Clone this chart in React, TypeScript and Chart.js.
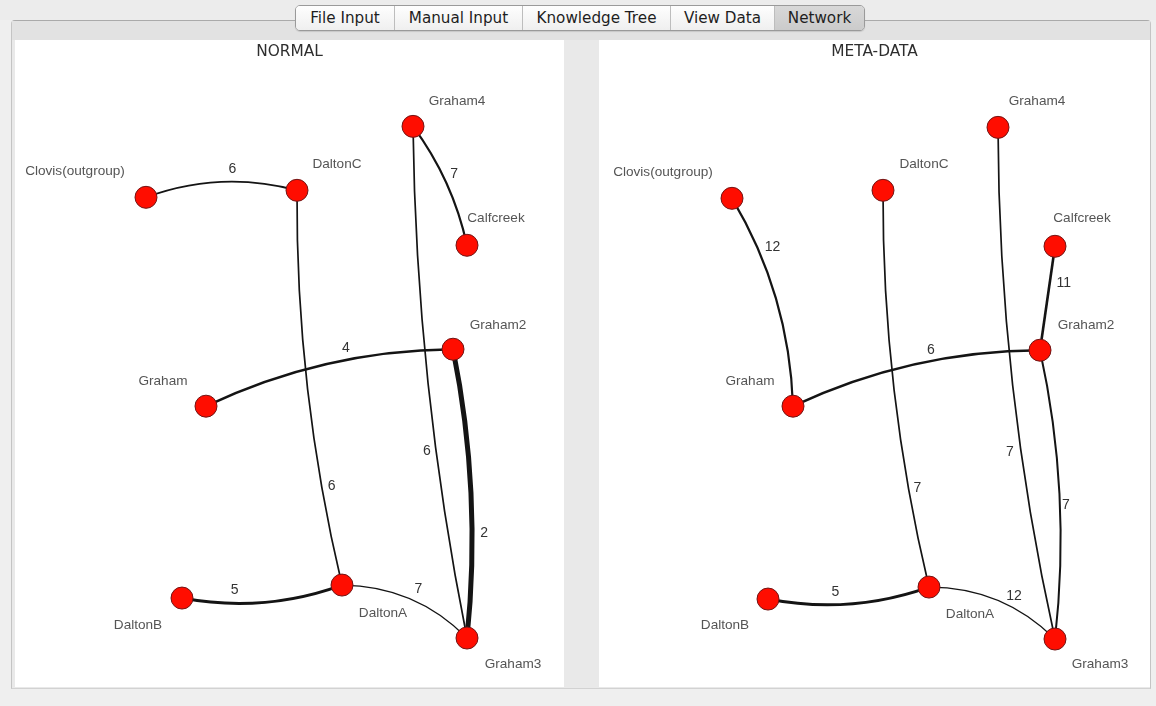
import React, { useEffect, useRef } from "react";
import { Chart, registerables } from "chart.js";

Chart.register(...registerables);

// ---------- data ----------
const NODE_NAMES = [
  "Graham4",
  "Clovis(outgroup)",
  "DaltonC",
  "Calfcreek",
  "Graham2",
  "Graham",
  "DaltonB",
  "DaltonA",
  "Graham3",
];

// network layout positions (layout units) – NORMAL
const NORMAL_X = [398, 131, 282, 452, 438, 191, 167, 327, 452];
const NORMAL_Y = [86, 157, 150, 205, 309, 366, 558, 545, 598];
// network layout positions (layout units) – META-DATA
const META_X = [399, 133, 284, 456, 441, 194, 169, 330, 456];
const META_Y = [87, 158, 150, 206, 310, 366, 559, 547, 599];

// edges (node index pairs) and their weights
const NORMAL_FROM = [1, 0, 2, 0, 5, 4, 6, 7];
const NORMAL_TO = [2, 3, 7, 8, 4, 8, 7, 8];
const NORMAL_WEIGHTS = [6, 7, 6, 6, 4, 2, 5, 7];

const META_FROM = [1, 2, 0, 3, 5, 4, 6, 7];
const META_TO = [5, 7, 8, 4, 4, 8, 7, 8];
const META_WEIGHTS = [12, 7, 7, 11, 6, 7, 5, 12];

const TABS = ["File Input", "Manual Input", "Knowledge Tree", "View Data", "Network"];

// ---------- styles ----------
const NORMAL_EDGE_WIDTH = [1.7, 2.2, 1.7, 1.7, 2.6, 5, 3, 1.3];
const NORMAL_EDGE_BEND = [-12, -7, 12, 12, -14, -11, 11, -14];
const NORMAL_LABEL_T = [0.58, 0.46, 0.75, 0.63, 0.59, 0.64, 0.33, 0.53];
const NORMAL_LABEL_OFF = [-12, -11, -10, 9, -12, -12, -13, -12];
const NORMAL_NODE_LABEL_DX = [44, -71, 40, 29, 45, -43, -44, 41, 46];
const NORMAL_NODE_LABEL_DY = [-25, -26, -26, -27, -24, -25, 27, 28, 26];

const META_EDGE_WIDTH = [2.2, 1.7, 1.7, 2.6, 2.6, 2, 3, 1.3];
const META_EDGE_BEND = [-14, 12, 14, 0, -14, -12, 11, -14];
const META_LABEL_T = [0.27, 0.75, 0.63, 0.34, 0.58, 0.54, 0.42, 0.6];
const META_LABEL_OFF = [-14, -9, 11, -14, -11, -6, -13, -11];
const META_NODE_LABEL_DX = [39, -69, 41, 27, 46, -43, -43, 41, 45];
const META_NODE_LABEL_DY = [-26, -26, -26, -28, -25, -25, 26, 27, 25];

const TAB_WIDTHS = [99, 128, 148, 104, 91];

const EDGE_COLOR = "#141414";
const NODE_FILL = "#ff0d00";
const NODE_BORDER = "#701515";

interface NetCfg {
  title: string;
  xs: number[];
  ys: number[];
  from: number[];
  to: number[];
  weights: number[];
  widths: number[];
  bends: number[];
  labelT: number[];
  labelOff: number[];
  nodeDx: number[];
  nodeDy: number[];
  width: number;
  height: number;
  left: number;
  top: number;
}

const TITLE_H = 25;

function edgeGeom(ax: number, ay: number, bx: number, by: number, bend: number) {
  const dx = bx - ax;
  const dy = by - ay;
  const len = Math.hypot(dx, dy) || 1;
  const nx = -dy / len;
  const ny = dx / len;
  const cx = (ax + bx) / 2 + nx * bend * 2;
  const cy = (ay + by) / 2 + ny * bend * 2;
  return { cx, cy, nx, ny };
}

function makeNetworkPlugin(c: NetCfg) {
  const pix = (chart: any, i: number) => ({
    x: chart.scales.x.getPixelForValue(c.xs[i]),
    y: chart.scales.y.getPixelForValue(c.ys[i]),
  });
  return {
    id: "networkGraph",
    beforeDatasetsDraw(chart: any) {
      const ctx = chart.ctx as CanvasRenderingContext2D;
      ctx.save();
      ctx.strokeStyle = EDGE_COLOR;
      ctx.lineCap = "butt";
      c.from.forEach((a, i) => {
        const A = pix(chart, a);
        const B = pix(chart, c.to[i]);
        const g = edgeGeom(A.x, A.y, B.x, B.y, c.bends[i]);
        ctx.lineWidth = c.widths[i];
        ctx.beginPath();
        ctx.moveTo(A.x, A.y);
        ctx.quadraticCurveTo(g.cx, g.cy, B.x, B.y);
        ctx.stroke();
      });
      ctx.restore();
    },
    afterDatasetsDraw(chart: any) {
      const ctx = chart.ctx as CanvasRenderingContext2D;
      ctx.save();
      ctx.textAlign = "center";
      ctx.textBaseline = "middle";
      // edge weight labels
      ctx.font = '14px "Liberation Sans", Arial, sans-serif';
      ctx.fillStyle = "#333333";
      c.from.forEach((a, i) => {
        const A = pix(chart, a);
        const B = pix(chart, c.to[i]);
        const g = edgeGeom(A.x, A.y, B.x, B.y, c.bends[i]);
        const t = c.labelT[i];
        const u = 1 - t;
        const px = u * u * A.x + 2 * u * t * g.cx + t * t * B.x;
        const py = u * u * A.y + 2 * u * t * g.cy + t * t * B.y;
        ctx.fillText(
          String(c.weights[i]),
          px + g.nx * c.labelOff[i],
          py + g.ny * c.labelOff[i]
        );
      });
      // node labels
      ctx.font = '13.6px "Liberation Sans", Arial, sans-serif';
      ctx.fillStyle = "#555555";
      NODE_NAMES.forEach((name, i) => {
        const P = pix(chart, i);
        ctx.fillText(name, P.x + c.nodeDx[i], P.y + c.nodeDy[i]);
      });
      ctx.restore();
    },
  };
}

function NetworkChart(props: { cfg: NetCfg }) {
  const { cfg } = props;
  const ref = useRef<HTMLCanvasElement | null>(null);
  useEffect(() => {
    if (!ref.current) return;
    const chart = new Chart(ref.current, {
      type: "scatter",
      data: {
        datasets: [
          {
            label: "nodes",
            data: cfg.xs.map((x, i) => ({ x, y: cfg.ys[i] })),
            pointRadius: 11,
            pointHoverRadius: 11,
            backgroundColor: NODE_FILL,
            borderColor: NODE_BORDER,
            borderWidth: 1,
          },
        ],
      },
      options: {
        animation: false,
        responsive: false,
        devicePixelRatio: 1,
        layout: { padding: 0, autoPadding: false },
        scales: {
          x: { type: "linear", display: false, min: 0, max: cfg.width },
          y: { type: "linear", display: false, reverse: true, min: TITLE_H, max: cfg.height },
        },
        plugins: {
          legend: { display: false },
          tooltip: { enabled: false },
          title: {
            display: true,
            text: cfg.title,
            color: "#2e2e2e",
            font: { family: '"DejaVu Sans", sans-serif', size: 15.4, weight: "normal", lineHeight: 1 },
            padding: { top: 4, bottom: 6 },
          },
        },
        events: [],
      },
      plugins: [makeNetworkPlugin(cfg)],
    } as any);
    return () => chart.destroy();
  }, []);
  return (
    <canvas
      ref={ref}
      width={cfg.width}
      height={cfg.height}
      style={{
        position: "absolute",
        left: cfg.left,
        top: cfg.top,
        width: cfg.width,
        height: cfg.height,
        background: "#ffffff",
      }}
    />
  );
}

const normalCfg: NetCfg = {
  title: "NORMAL",
  xs: NORMAL_X,
  ys: NORMAL_Y,
  from: NORMAL_FROM,
  to: NORMAL_TO,
  weights: NORMAL_WEIGHTS,
  widths: NORMAL_EDGE_WIDTH,
  bends: NORMAL_EDGE_BEND,
  labelT: NORMAL_LABEL_T,
  labelOff: NORMAL_LABEL_OFF,
  nodeDx: NORMAL_NODE_LABEL_DX,
  nodeDy: NORMAL_NODE_LABEL_DY,
  width: 549,
  height: 647,
  left: 15,
  top: 40,
};

const metaCfg: NetCfg = {
  title: "META-DATA",
  xs: META_X,
  ys: META_Y,
  from: META_FROM,
  to: META_TO,
  weights: META_WEIGHTS,
  widths: META_EDGE_WIDTH,
  bends: META_EDGE_BEND,
  labelT: META_LABEL_T,
  labelOff: META_LABEL_OFF,
  nodeDx: META_NODE_LABEL_DX,
  nodeDy: META_NODE_LABEL_DY,
  width: 551,
  height: 647,
  left: 599,
  top: 40,
};

export default function App() {
  return (
    <div
      style={{
        position: "absolute",
        left: 0,
        top: 0,
        width: 1156,
        height: 706,
        overflow: "hidden",
        background: "#efefef",
        fontFamily: '"DejaVu Sans", sans-serif',
      }}
    >
      {/* top strip */}
      <div style={{ position: "absolute", left: 0, top: 0, width: 1156, height: 20, background: "#ececec" }} />
      {/* frame */}
      <div
        style={{
          position: "absolute",
          left: 11,
          top: 20,
          width: 1140,
          height: 669,
          boxSizing: "border-box",
          background: "#e9e9e9",
          borderTop: "1px solid #aaaaaa",
          borderLeft: "1px solid #c4c4c4",
          borderRight: "1px solid #c4c4c4",
          borderBottom: "1px solid #d2d2d2",
          borderRadius: "4px 4px 0 0",
        }}
      />
      <div style={{ position: "absolute", left: 12, top: 21, width: 1138, height: 19, background: "#e2e2e2" }} />
      {/* tabs */}
      <div
        style={{
          position: "absolute",
          left: 295,
          top: 5,
          width: 570,
          height: 26,
          boxSizing: "border-box",
          display: "flex",
          border: "1px solid #9a9a9a",
          borderRadius: 5,
          overflow: "hidden",
          boxShadow: "0 1px 1px rgba(0,0,0,0.12)",
        }}
      >
        {TABS.map((t, i) => (
          <div
            key={t}
            style={{
              width: TAB_WIDTHS[i] - (i === 0 ? 1 : 0) - (i === TABS.length - 1 ? 1 : 0),
              height: "100%",
              display: "flex",
              alignItems: "center",
              justifyContent: "center",
              fontSize: 15.2,
              color: "#1e1e1e",
              borderLeft: i === 0 ? "none" : "1px solid #bdbdbd",
              boxSizing: "border-box",
              background:
                i === TABS.length - 1
                  ? "linear-gradient(#d8d8d8, #cbcbcb)"
                  : "linear-gradient(#fefefe, #efefef)",
              whiteSpace: "nowrap",
            }}
          >
            {t}
          </div>
        ))}
      </div>
      <NetworkChart cfg={normalCfg} />
      <NetworkChart cfg={metaCfg} />
    </div>
  );
}
